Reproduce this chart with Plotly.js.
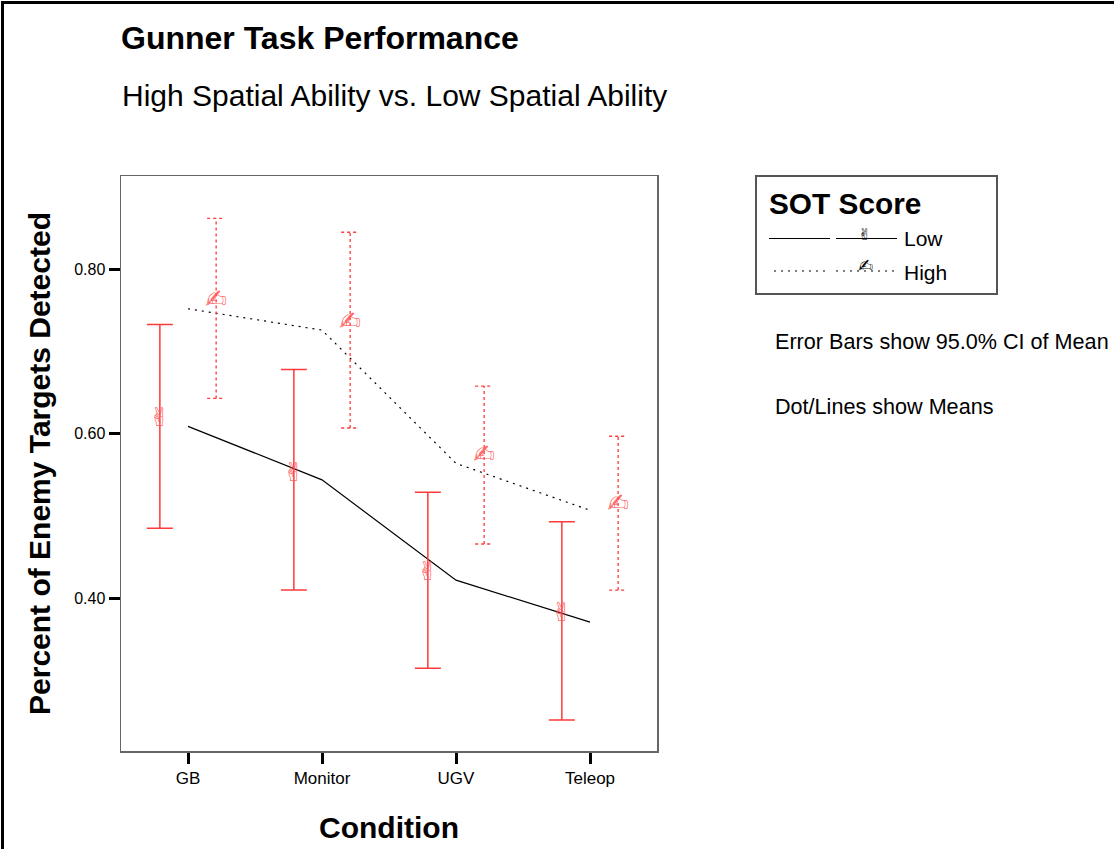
<!DOCTYPE html>
<html>
<head>
<meta charset="utf-8">
<script src="https://cdn.plot.ly/plotly-3.0.1.min.js"></script>
<style>html,body{margin:0;padding:0;background:#fff;}#chart{width:1114px;height:849px;}</style>
</head>
<body>
<div id="chart"></div>
<script>
// ---- data ----
const categories = ['GB', 'Monitor', 'UGV', 'Teleop'];
const lowMean  = [0.617, 0.550, 0.430, 0.380];
const lowUpper = [0.733, 0.678, 0.529, 0.493];
const lowLower = [0.485, 0.410, 0.315, 0.252];
const highMean  = [0.761, 0.734, 0.572, 0.513];
const highUpper = [0.862, 0.845, 0.658, 0.597];
const highLower = [0.643, 0.607, 0.466, 0.410];
const lowLine  = [0.609, 0.544, 0.422, 0.371];
const highLine = [0.752, 0.726, 0.564, 0.507];
const yTickVals = [0.40, 0.60, 0.80];
const yTickText = ['0.40', '0.60', '0.80'];
const seriesNames = ['Low', 'High'];
const lowSymbol = '\u270C';
const highSymbol = '\u270D';

// ---- styles / layout constants ----
const FONT = '"Liberation Sans", Arial, Helvetica, sans-serif';
const SYMFONT = '"DejaVu Sans", sans-serif';
const RED = '#ff3a3a';
const MARK = 'rgba(255,80,80,0.85)';
const OFFSET = 0.21;       // dodge of the two groups, in category units
const CAP = 0.067;         // half-width of the dotted caps, in category units
const W = 1114, H = 849, L = 121, R = 457, T = 176, B = 98;
const PW = W - L - R, PH = H - T - B;
const px = v => (v - L) / PW;          // pixel -> paper x
const py = v => (H - B - v) / PH;      // pixel -> paper y

const pos = categories.map((c, i) => i + 1);
const xLow = pos.map(p => p - OFFSET);
const xHigh = pos.map(p => p + OFFSET);

// dotted error bars of the High group built from the arrays
const hx = [], hy = [], cx = [], cy = [];
xHigh.forEach((x, i) => {
  hx.push(x, x, null); hy.push(highLower[i], highUpper[i], null);
  cx.push(x - CAP, x + CAP, null, x - CAP, x + CAP, null);
  cy.push(highUpper[i], highUpper[i], null, highLower[i], highLower[i], null);
});

const traces = [
  { // Low means line
    type: 'scatter', mode: 'lines', x: pos, y: lowLine, name: seriesNames[0],
    line: { color: '#000', width: 1.2 }, showlegend: false
  },
  { // High means line
    type: 'scatter', mode: 'lines', x: pos, y: highLine, name: seriesNames[1],
    line: { color: '#000', width: 1.2, dash: '2px,5px' }, showlegend: false
  },
  { // High CI vertical
    type: 'scatter', mode: 'lines', x: hx, y: hy, line: { color: RED, width: 1.3, dash: '3px,3px' },
    showlegend: false, connectgaps: false
  },
  { // High CI caps
    type: 'scatter', mode: 'lines', x: cx, y: cy, line: { color: RED, width: 1.3, dash: '3px,3px' },
    showlegend: false, connectgaps: false
  },
  { // Low means with CI error bars
    type: 'scatter', mode: 'text', x: xLow, y: lowMean, name: seriesNames[0],
    text: lowMean.map(() => lowSymbol), textposition: 'middle center',
    textfont: { family: SYMFONT, size: 26, color: MARK },
    error_y: {
      type: 'data', symmetric: false, visible: true,
      array: lowUpper.map((u, i) => u - lowMean[i]),
      arrayminus: lowLower.map((l, i) => lowMean[i] - l),
      color: RED, thickness: 1.5, width: 13
    },
    showlegend: false
  },
  { // High means
    type: 'scatter', mode: 'text', x: xHigh, y: highMean, name: seriesNames[1],
    text: highMean.map(() => highSymbol), textposition: 'middle center',
    textfont: { family: SYMFONT, size: 26, color: MARK },
    showlegend: false
  }
];

const line = (x0, y0, x1, y1, opts) => Object.assign({
  type: 'line', xref: 'paper', yref: 'paper', x0: px(x0), y0: py(y0), x1: px(x1), y1: py(y1),
  line: { color: '#000', width: 1 }
}, opts || {});

const shapes = [
  // outer frame (top and left edges visible)
  { type: 'rect', xref: 'paper', yref: 'paper', x0: px(2.5), y0: py(2.5), x1: px(1125), y1: py(870),
    line: { color: '#000', width: 3 } },
  // legend box
  { type: 'rect', xref: 'paper', yref: 'paper', x0: px(756), y0: py(176), x1: px(997), y1: py(294),
    line: { color: '#555', width: 2 } },
  line(769, 238.5, 830, 238.5),
  line(836, 238.5, 897, 238.5),
  line(774, 271, 830, 271, { line: { color: '#000', width: 1, dash: '2px,5px' } }),
  line(836, 271, 897, 271, { line: { color: '#000', width: 1, dash: '2px,5px' } })
];

const ann = (x, y, text, size, extra) => Object.assign({
  xref: 'paper', yref: 'paper', x: px(x), y: py(y), xanchor: 'left', yanchor: 'middle',
  text: text, showarrow: false, font: { family: FONT, size: size, color: '#000' }
}, extra || {});

const annotations = [
  ann(120, 95, 'High Spatial Ability vs. Low Spatial Ability', 30),
  ann(767, 203, '<b>SOT Score</b>', 29.8),
  ann(902, 239, seriesNames[0], 21),
  ann(902, 272, seriesNames[1], 21),
  ann(864, 234.5, lowSymbol, 16, { xanchor: 'center', font: { family: SYMFONT, size: 16, color: '#000' } }),
  ann(865, 265, highSymbol, 18, { xanchor: 'center', font: { family: SYMFONT, size: 18, color: '#000' } }),
  ann(773, 341, 'Error Bars show 95.0% CI of Mean', 21.6),
  ann(773, 406, 'Dot/Lines show Means', 21.6)
];

const layout = {
  width: W, height: H,
  margin: { l: L, r: R, t: T, b: B, pad: 0 },
  paper_bgcolor: '#fff', plot_bgcolor: '#fff',
  font: { family: FONT, color: '#000' },
  title: {
    text: '<b>Gunner Task Performance</b>', font: { family: FONT, size: 32, color: '#000' },
    x: 121 / W, xanchor: 'left', xref: 'container', y: 1 - 38 / H, yanchor: 'middle', yref: 'container'
  },
  xaxis: {
    range: [0.5, 4.5], tickvals: pos, ticktext: categories,
    ticks: 'outside', ticklen: 11, tickwidth: 3, tickcolor: '#000',
    showline: true, linecolor: '#666', linewidth: 1.5, mirror: true,
    showgrid: false, zeroline: false,
    tickfont: { family: FONT, size: 17, color: '#000' },
    title: { text: '<b>Condition</b>', font: { family: FONT, size: 30, color: '#000' }, standoff: 30 }
  },
  yaxis: {
    range: [0.2143, 0.9134], tickvals: yTickVals, ticktext: yTickText,
    ticks: 'outside', ticklen: 11, tickwidth: 3, tickcolor: '#000',
    showline: true, linecolor: '#666', linewidth: 1.5, mirror: true,
    showgrid: false, zeroline: false,
    tickfont: { family: FONT, size: 16, color: '#000' },
    title: { text: '<b>Percent of Enemy Targets Detected</b>', font: { family: FONT, size: 30, color: '#000' }, standoff: 14 }
  },
  showlegend: false,
  shapes: shapes,
  annotations: annotations
};

Plotly.newPlot('chart', traces, layout, { displayModeBar: false, staticPlot: true });
</script>
</body>
</html>
